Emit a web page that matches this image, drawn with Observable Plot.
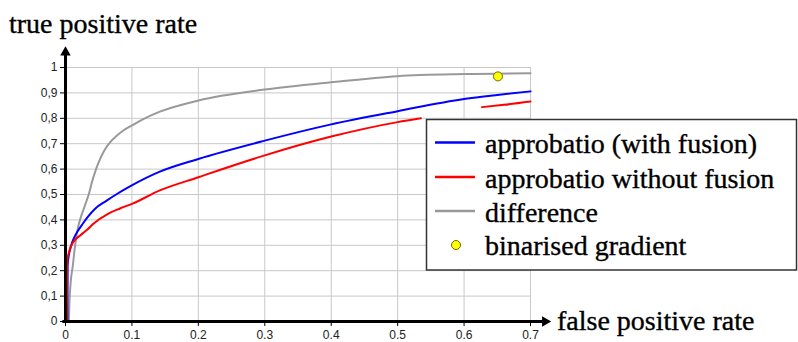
<!DOCTYPE html>
<html>
<head>
<meta charset="utf-8">
<script src="https://cdn.jsdelivr.net/npm/d3@7"></script>
<script src="https://cdn.jsdelivr.net/npm/@observablehq/plot@0.6"></script>
<style>
  html, body { margin: 0; padding: 0; background: #fff; }
  #chart { width: 798px; height: 342px; position: relative; overflow: hidden; }
</style>
</head>
<body>
<div id="chart"></div>
<script>
// ---- data ----
const xTicks = [0, 0.1, 0.2, 0.3, 0.4, 0.5, 0.6, 0.7];
const xTickLabels = ["0", "0.1", "0.2", "0.3", "0.4", "0.5", "0.6", "0.7"];
const yTicks = [0, 0.1, 0.2, 0.3, 0.4, 0.5, 0.6, 0.7, 0.8, 0.9, 1];
const yTickLabels = ["0", "0,1", "0,2", "0,3", "0,4", "0,5", "0,6", "0,7", "0,8", "0,9", "1"];

// approbatio (with fusion)
const blueX = [0.003, 0.0032, 0.005, 0.008, 0.013, 0.019, 0.026, 0.033, 0.045, 0.062, 0.078, 0.095, 0.142, 0.2, 0.3, 0.4, 0.5, 0.6, 0.65, 0.7];
const blueY = [0, 0.22, 0.26, 0.295, 0.33, 0.358, 0.385, 0.41, 0.445, 0.476, 0.503, 0.529, 0.59, 0.64, 0.712, 0.776, 0.828, 0.876, 0.892, 0.906];

// approbatio without fusion (gap where the curve is missing)
const redX = [0.002, 0.0025, 0.005, 0.009, 0.014, 0.022, 0.032, 0.042, 0.064, 0.082, 0.1, 0.142, 0.2, 0.3, 0.4, 0.5, 0.535, 0.58, 0.627, 0.66, 0.7];
const redY = [0, 0.235, 0.27, 0.3, 0.32, 0.339, 0.36, 0.385, 0.424, 0.445, 0.463, 0.516, 0.568, 0.654, 0.728, 0.785, 0.80, null, 0.844, 0.853, 0.866];

// difference
const grayX = [0.005, 0.006, 0.008, 0.011, 0.014, 0.018, 0.023, 0.027, 0.031, 0.035, 0.040, 0.046, 0.053, 0.060, 0.068, 0.077, 0.087, 0.1, 0.112, 0.142, 0.2, 0.3, 0.4, 0.5, 0.6, 0.7];
const grayY = [0, 0.08, 0.16, 0.22, 0.29, 0.36, 0.41, 0.44, 0.47, 0.5, 0.55, 0.6, 0.645, 0.68, 0.708, 0.731, 0.752, 0.772, 0.79, 0.826, 0.87, 0.913, 0.942, 0.966, 0.974, 0.977];

// binarised gradient
const pointX = [0.651];
const pointY = [0.965];

// legend entries
const legendLabels = ["approbatio (with fusion)", "approbatio without fusion", "difference", "binarised gradient"];
const legendColors = ["#0000ff", "#ff0000", "#999999", "#ffff00"];

// axis arrow extents (data units)
const yArrowTip = 1.083;
const xArrowTip = 0.731;
const xAxisStart = -0.004;

// ---- build tables ----
const toRows = (xs, ys) => xs.map((x, i) => ({x, y: ys[i]}));
const blue = toRows(blueX, blueY);
const red = toRows(redX, redY);
const gray = toRows(grayX, grayY);
const points = toRows(pointX, pointY);
const xFmt = new Map(xTicks.map((d, i) => [d, xTickLabels[i]]));
const yFmt = new Map(yTicks.map((d, i) => [d, yTickLabels[i]]));

const plot = Plot.plot({
  width: 798,
  height: 342,
  marginLeft: 65,
  marginRight: 268,
  marginTop: 67,
  marginBottom: 21,
  x: {domain: [0, 0.7]},
  y: {domain: [0, 1]},
  style: {fontFamily: "'Liberation Sans', Arial, sans-serif", fontSize: "12px", background: "#fff", overflow: "visible", color: "#222"},
  marks: [
    Plot.gridX(xTicks.slice(1), {stroke: "#c8c8c8", strokeOpacity: 1, strokeWidth: 1}),
    Plot.gridY(yTicks.slice(1), {stroke: "#c8c8c8", strokeOpacity: 1, strokeWidth: 1}),
    Plot.line(gray, {x: "x", y: "y", stroke: "#999999", strokeWidth: 2, curve: "monotone-x"}),
    Plot.line(blue, {x: "x", y: "y", stroke: "#0000ff", strokeWidth: 2, curve: "monotone-x"}),
    Plot.line(red, {x: "x", y: "y", stroke: "#ff0000", strokeWidth: 2, curve: "monotone-x"}),
    Plot.dot(points, {x: "x", y: "y", r: 4.5, fill: "#ffff00", stroke: "#6b6b00", strokeWidth: 1}),
    Plot.axisX(xTicks, {tickFormat: d => xFmt.get(d), tickSize: 5, tickPadding: 4, label: null, stroke: "#000", fill: "#222"}),
    Plot.axisY(yTicks, {tickFormat: d => yFmt.get(d), tickSize: 5, tickPadding: 3, label: null, stroke: "#000", fill: "#222"}),
    Plot.ruleX([0], {y1: 0, y2: yArrowTip - 0.02, stroke: "#000", strokeWidth: 3}),
    Plot.ruleY([0], {x1: xAxisStart, x2: xArrowTip - 0.01, stroke: "#000", strokeWidth: 3}),
    Plot.dot([{x: 0, y: yArrowTip}], {x: "x", y: "y", symbol: "triangle", r: 3.9, fill: "#000", stroke: "none", dy: 6}),
    Plot.dot([{x: xArrowTip, y: 0}], {x: "x", y: "y", symbol: "triangle", r: 3.9, fill: "#000", stroke: "none", rotate: 90, dx: -6})
  ]
});

document.getElementById("chart").appendChild(plot);

// ---- axis titles and legend drawn into the same SVG ----
const svg = d3.select(plot);
const serif = "'Liberation Serif', 'Times New Roman', serif";

function serifText(sel, x, y, s) {
  return sel.append("text").attr("x", x).attr("y", y)
    .style("text-anchor", "start").style("font-family", serif).style("font-size", "28px")
    .style("fill", "#000").style("stroke", "#000").style("stroke-width", "0.35px").text(s);
}

serifText(svg, 9, 33, "true positive rate");
serifText(svg, 557, 330, "false positive rate");

const lg = svg.append("g");
lg.append("rect").attr("x", 426.5).attr("y", 119.5).attr("width", 370).attr("height", 150.5)
  .attr("fill", "#fff").attr("stroke", "#333").attr("stroke-width", 1.5);
const rowBase = [153, 187.5, 221.5, 254.5];
legendLabels.forEach((label, i) => {
  const cy = rowBase[i] - 10.5;
  if (i < 3) {
    lg.append("line").attr("x1", 435).attr("x2", 475).attr("y1", cy).attr("y2", cy)
      .attr("stroke", legendColors[i]).attr("stroke-width", 2.5);
  } else {
    lg.append("circle").attr("cx", 456).attr("cy", cy + 1).attr("r", 4.5)
      .attr("fill", legendColors[i]).attr("stroke", "#6b6b00").attr("stroke-width", 1);
  }
  serifText(lg, 485, rowBase[i], label);
});
</script>
</body>
</html>
